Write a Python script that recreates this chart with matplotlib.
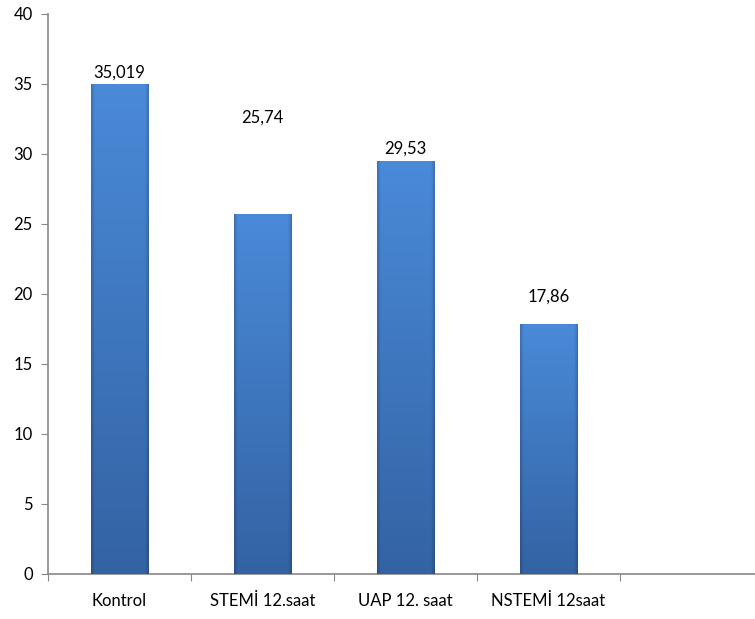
import matplotlib.pyplot as plt
import numpy as np
from matplotlib.colors import to_rgb

categories = ["Kontrol", "STEMİ 12.saat", "UAP 12. saat", "NSTEMİ 12saat", ""]
values = [35.019, 25.74, 29.53, 17.86]
value_labels = ["35,019", "25,74", "29,53", "17,86"]
yticks = [0, 5, 10, 15, 20, 25, 30, 35, 40]

plt.rcParams['font.family'] = ['Lato', 'DejaVu Sans']

# label heights as placed in the original
label_y = [35.8, 32.6, 30.4, 19.8]

fig = plt.figure(figsize=(7.55, 6.19), dpi=100)
ax = fig.add_axes([48/755, 45/619, 715/755, 560/619])

top_c = np.array(to_rgb("#4a8ad9"))
bot_c = np.array(to_rgb("#3363a3"))
width = 0.4

for i, v in enumerate(values):
    x0 = i + 0.5 - width/2
    bar = ax.bar(i + 0.5, v, width=width, color="#4080cf", zorder=2)[0]
    ny, nx = 200, 60
    t = np.linspace(0, 1, ny)[:, None]  # 0 top -> 1 bottom
    col = top_c[None, None, :] * (1 - t[..., None]) + bot_c[None, None, :] * t[..., None]
    col = np.repeat(col, nx, axis=1)
    xs = np.linspace(0, 1, nx)
    edge = 1 - 0.18 * np.clip(1 - np.minimum(xs, 1 - xs) / 0.06, 0, 1)
    col = col * edge[None, :, None]
    img = ax.imshow(np.clip(col, 0, 1), extent=(x0, x0 + width, 0, v), aspect="auto",
                    origin="upper", zorder=3, interpolation="bilinear")
    img.set_clip_path(bar)
    ax.text(i + 0.5, label_y[i], value_labels[i], ha="center", va="center", fontsize=12, zorder=4)

ax.set_xlim(0, 5)
ax.set_ylim(0, 40)
ax.set_yticks(yticks)
ax.set_yticklabels([str(y) for y in yticks], fontsize=12)
ax.set_xticks(np.arange(0, 6))
ax.set_xticklabels([])
ax.set_xticks(np.arange(5) + 0.5, minor=True)
ax.set_xticklabels(categories, minor=True, fontsize=12)
ax.tick_params(axis="x", which="minor", length=0, pad=14)
ax.tick_params(axis="x", which="major", length=5, color="#888888")
ax.tick_params(axis="y", length=5, color="#888888", pad=6)

for s in ["top", "right"]:
    ax.spines[s].set_visible(False)
for s in ["left", "bottom"]:
    ax.spines[s].set_color("#888888")
    ax.spines[s].set_linewidth(1.2)

fig.savefig("out.png", dpi=100)
